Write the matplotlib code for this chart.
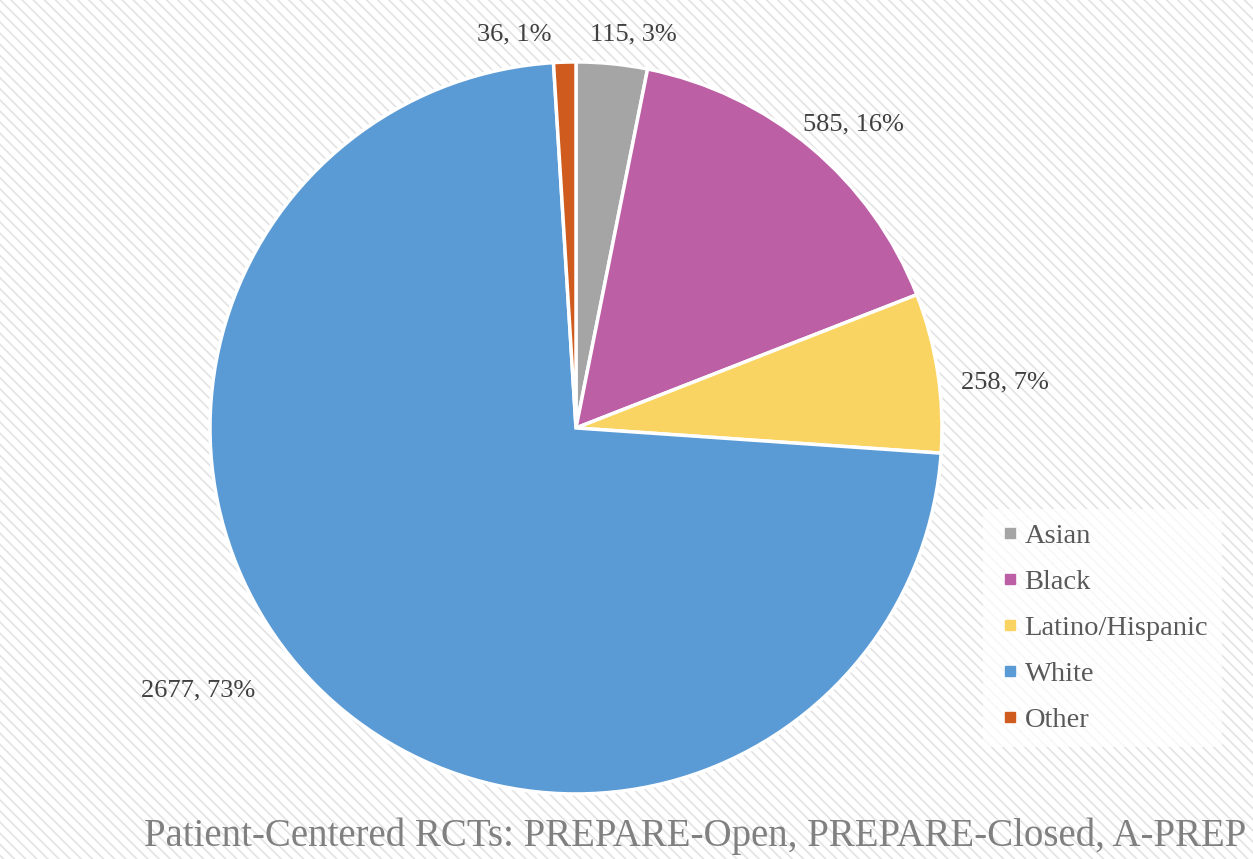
import matplotlib.pyplot as plt
from matplotlib.patches import Rectangle
from matplotlib.lines import Line2D

# DATA
groups = ['Asian', 'Black', 'Latino/Hispanic', 'White', 'Other']
counts = [115, 585, 258, 2677, 36]
colors = ['#A5A5A5', '#BD5FA5', '#FAD463', '#5B9BD5', '#CF5B1E']
title = 'Patient-Centered RCTs: PREPARE-Open, PREPARE-Closed, A-PREP'

total = sum(counts)
pcts = [round(c / total * 100) for c in counts]

plt.rcParams['font.family'] = ['Liberation Serif', 'DejaVu Serif']
plt.rcParams['hatch.linewidth'] = 1.2

fig = plt.figure(figsize=(12.53, 8.59), dpi=100)

# striped background
fig.patches.append(Rectangle((0, 0), 1, 1, transform=fig.transFigure,
                             facecolor='white', edgecolor='#e3e3e3',
                             hatch='\\\\\\', lw=0, zorder=-10))

ax = fig.add_axes([0.1676, 0.0757, 0.5842, 0.8522])
ax.set_facecolor('none')

wedges, _ = ax.pie(counts, colors=colors, startangle=90, counterclock=False,
                   radius=1, wedgeprops=dict(edgecolor='white', linewidth=2.5))
ax.set_xlim(-1, 1)
ax.set_ylim(-1, 1)
ax.set_aspect('equal')
ax.axis('off')

# label positions (data coords)
label_pos = [(0.158, 1.074), (0.757, 0.828), (1.172, 0.123),
             (-1.033, -0.716), (-0.169, 1.074)]
for (x, y), c, p in zip(label_pos, counts, pcts):
    ax.text(x, y, f'{c}, {p}%', ha='center', va='center', fontsize=19,
            color='#404040', clip_on=False)

handles = [Line2D([], [], marker='s', ls='', color=col, markersize=7) for col in colors]
leg = fig.legend(handles, groups, loc='upper left', bbox_to_anchor=(0.7734, 0.424),
                 frameon=True, fontsize=20.5, labelcolor='#595959',
                 handletextpad=0.05, handlelength=0.9, labelspacing=0.70,
                 borderpad=0.5, fancybox=False)
leg.get_frame().set_facecolor('white')
leg.get_frame().set_alpha(0.75)
leg.get_frame().set_edgecolor('none')

fig.text(0.555, 0.026, title, ha='center', va='center', fontsize=28, color='#808080')

fig.savefig('out.png', dpi=100)
